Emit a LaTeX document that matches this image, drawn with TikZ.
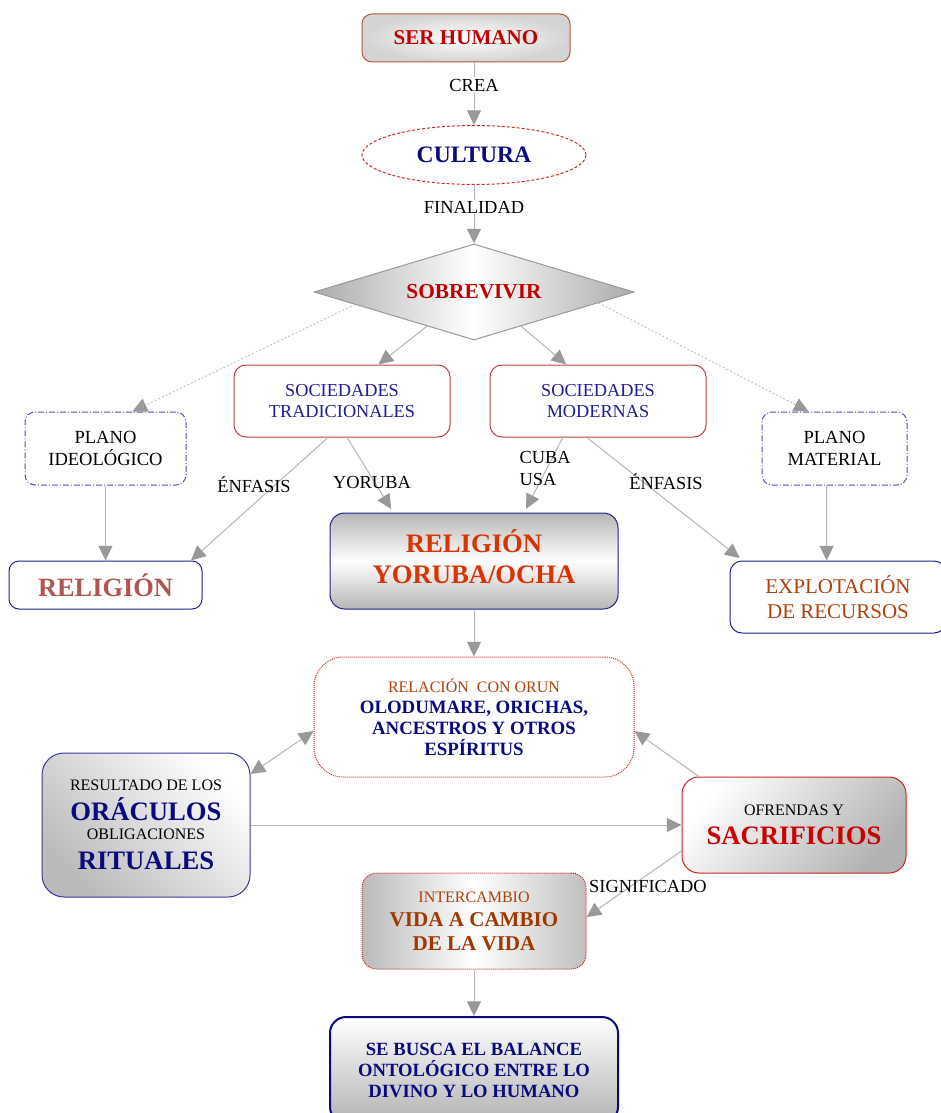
\documentclass[tikz,border=0pt]{standalone}
\usepackage{fontspec}
\setmainfont{Liberation Serif}
\usetikzlibrary{shapes.geometric,arrows.meta,calc}
\lineskiplimit=-100pt
\newcommand\fsz[2]{\fontsize{#1}{#2}\selectfont}

\definecolor{darkred}{HTML}{C00000}
\definecolor{navyc}{HTML}{0A0A80}
\definecolor{socnavy}{HTML}{1E1E96}
\definecolor{rosy}{HTML}{B05454}
\definecolor{orred}{HTML}{D93300}
\definecolor{brownc}{HTML}{B0400C}
\definecolor{vidac}{HTML}{A03800}
\definecolor{sacred}{HTML}{CC0000}
\definecolor{linegray}{HTML}{B4B4B4}
\definecolor{tipgray}{HTML}{999999}
\definecolor{dotgray}{HTML}{B8B8B8}
\definecolor{serborder}{HTML}{B4583A}
\definecolor{redborder}{HTML}{C04040}
\definecolor{dashred}{HTML}{D02828}
\definecolor{planoblue}{HTML}{5050B4}
\definecolor{navyborder}{HTML}{202090}
\definecolor{oracborder}{HTML}{3A3AA0}
\definecolor{sacrborder}{HTML}{D42020}
\definecolor{shadegray}{HTML}{B6B6B6}

\begin{document}
\begin{tikzpicture}[x=0.75pt,y=-0.75pt,
  box/.style={rectangle, inner sep=0pt, align=center, line width=0.75pt},
  arr/.style={draw=linegray, line width=0.75pt,
    -{Triangle[length=11pt,width=10.5pt,color=tipgray]}},
  darr/.style={draw=linegray, line width=0.75pt,
    {Triangle[length=11pt,width=10.5pt,color=tipgray]}-{Triangle[length=11pt,width=10.5pt,color=tipgray]}},
  dotarr/.style={draw=dotgray, line width=0.6pt, dash pattern=on 1.5pt off 1.5pt,
    -{Triangle[length=11pt,width=10.5pt,color=tipgray]}},
  lab/.style={inner sep=1pt, font=\fsz{13.8}{16}},
  dotline/.style={dash pattern=on 0.75pt off 0.75pt},
  dashdot/.style={dash pattern=on 4.5pt off 1.5pt on 0.75pt off 1.5pt},
]
\useasboundingbox (0,0) rectangle (940,1113);

% top chain
\node[box, rounded corners=7.5pt, draw=serborder, inner color=white, outer color=black!17,
      minimum width=156pt, minimum height=36pt, text=darkred,
      font=\fsz{15.8}{18}\bfseries] (ser) at (466,38) {SER HUMANO};
\node[ellipse, inner sep=0pt, draw=dashred, line width=0.75pt, dash pattern=on 2.25pt off 1.5pt,
      minimum width=168pt, minimum height=44.25pt, text=navyc,
      font=\fsz{17.7}{20}\bfseries] (cult) at (474,155) {CULTURA};
\node[diamond, shape aspect=3.333, inner sep=0pt, draw=black!40, line width=0.75pt,
      left color=black!33, right color=black!33, middle color=white,
      minimum width=240pt, minimum height=72pt, text=darkred,
      font=\fsz{16}{18}\bfseries] (sob) at (474,292) {SOBREVIVIR};

% societies and planes
\node[box, rounded corners=9pt, draw=redborder, fill=white, minimum width=162pt, minimum height=54pt,
      text=socnavy, font=\fsz{13.7}{16.3}] (trad) at (342,401) {SOCIEDADES\\TRADICIONALES};
\node[box, rounded corners=9pt, draw=redborder, fill=white, minimum width=162pt, minimum height=54pt,
      text=socnavy, font=\fsz{13.7}{16.3}] (mod) at (598,401) {SOCIEDADES\\MODERNAS};
\node[box, rounded corners=7.5pt, draw=planoblue, dashdot, minimum width=120.75pt, minimum height=54.75pt,
      font=\fsz{13.9}{16.5}] (pid) at (105.5,448.5) {PLANO\\IDEOLÓGICO};
\node[box, rounded corners=7.5pt, draw=planoblue, dashdot, minimum width=108.75pt, minimum height=54.75pt,
      font=\fsz{13.9}{16.5}] (pmat) at (834.5,448.5) {PLANO\\MATERIAL};

% religion level
\node[box, rounded corners=7.5pt, draw=navyborder, minimum width=144.75pt, minimum height=36pt,
      text=rosy, font=\fsz{19.8}{22}\bfseries] (rel) at (105.5,585) {RELIGIÓN};
\node[box, rounded corners=11pt, draw=navyborder, top color=shadegray, bottom color=shadegray, middle color=white,
      minimum width=216pt, minimum height=72pt, text=orred,
      font=\fsz{20}{23.25}\bfseries] (yor) at (474,561) {RELIGIÓN\\YORUBA/OCHA\\[-17.25pt]};
\node[box, rounded corners=9pt, draw=navyborder, fill=white, minimum width=162pt, minimum height=54pt,
      text=brownc, font=\fsz{15.75}{18.75}] (expl) at (838,597) {EXPLOTACIÓN\\DE RECURSOS};

% ritual level
\node[box, rounded corners=22pt, draw=dashred, dotline, fill=white, minimum width=240pt, minimum height=90pt,
      text=navyc, font=\fsz{14.1}{15.75}\bfseries] (relac) at (474,717)
      {{\mdseries\color{brownc}\fsz{12}{15.75}RELACIÓN\ \ CON ORUN}\\OLODUMARE, ORICHAS,\\ANCESTROS Y OTROS\\ESPÍRITUS};
\node[box, rounded corners=16.5pt, draw=oracborder, top color=white, bottom color=black!27, shading angle=-45,
      minimum width=156pt, minimum height=108pt, font=\fsz{12}{14.25}] (orac) at (146,825)
      {RESULTADO DE LOS\\[8pt]{\color{navyc}\bfseries\fsz{20}{14.25}ORÁCULOS}\\OBLIGACIONES\\[8.25pt]{\color{navyc}\bfseries\fsz{20}{14.25}RITUALES}};
\node[box, rounded corners=12.75pt, draw=sacrborder, top color=white, bottom color=black!30, shading angle=50,
      minimum width=168pt, minimum height=72pt, font=\fsz{12}{21.75}] (sacr) at (794,825)
      {OFRENDAS Y\\{\color{sacred}\bfseries\fsz{20}{21.75}SACRIFICIOS}};
\node[box, rounded corners=11pt, draw=sacrborder, dotline, left color=black!27, right color=black!25, middle color=white,
      minimum width=168pt, minimum height=72pt, text=vidac, font=\fsz{15.8}{18}\bfseries] (inter) at (474,921)
      {{\mdseries\color{brownc}\fsz{12}{18}INTERCAMBIO}\\VIDA A CAMBIO\\DE LA VIDA};
\node[box, rounded corners=12pt, draw=navyc, line width=1.5pt, top color=white, bottom color=black!30,
      minimum width=216pt, minimum height=79.5pt, text=navyc, font=\fsz{14}{15.75}\bfseries] (bal) at (474,1070)
      {SE BUSCA EL BALANCE\\ONTOLÓGICO ENTRE LO\\DIVINO Y LO HUMANO};

% connectors
\draw[arr] (ser.south -| cult.north) -- (cult.north);
\draw[arr] (cult) -- (sob);
\draw[dotarr] (sob.186) -- (pid.54);
\draw[dotarr] (sob.355) -- (pmat.125);
\draw[arr] (sob.216) -- (trad.45);
\draw[arr] (sob.324) -- (mod.131);
\draw[arr] (pid.south) -- (pid.south |- rel.north);
\draw[arr] (trad.249) -- (rel.16);
\draw[arr, shorten >=3pt] (trad.278) -- (yor.149);
\draw[arr, shorten >=3pt] (mod.226) -- (yor.44);
\draw[arr, shorten >=3pt] (mod.253) -- (expl.159);
\draw[arr] (pmat.258) -- (pmat.258 |- expl.north);
\draw[arr] (yor) -- (relac);
\draw[darr] (orac.26) -- (relac.185);
\draw[arr] (orac) -- (sacr);
\draw[arr] (sacr.153) -- (relac.355);
\draw[arr] (sacr.193) -- (inter.2);
\draw[arr] (inter) -- (bal);

% connector labels
\node[lab, fill=white] (lcrea) at (474,85) {CREA};
\node[lab, fill=white] (lfin) at (474,207) {FINALIDAD};
\node[lab] (lenf1) at (254,485) {ÉNFASIS};
\node[lab] (lyor) at (372,482) {YORUBA};
\node[lab, anchor=west, align=left, font=\fsz{13.8}{16.5}] (lcuba) at (518,468) {CUBA\\USA};
\node[lab] (lenf2) at (666,482) {ÉNFASIS};
\node[lab] (lsig) at (648,886) {SIGNIFICADO};
\end{tikzpicture}
\end{document}
